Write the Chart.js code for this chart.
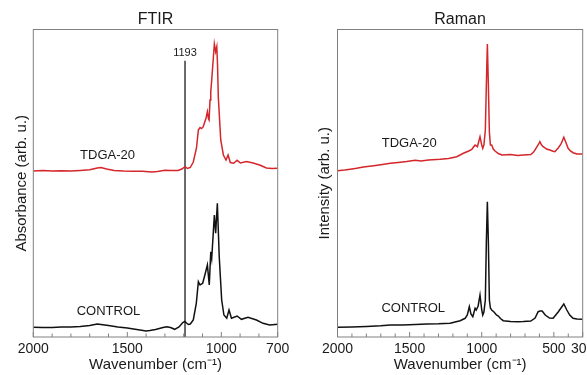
<!DOCTYPE html>
<html>
<head>
<meta charset="utf-8">
<script src="https://cdn.jsdelivr.net/npm/chart.js@4.4.1/dist/chart.umd.min.js"></script>
<style>
  html, body { margin: 0; padding: 0; background: #fff; overflow: hidden; width: 587px; height: 375px; position: relative; }
  canvas { position: absolute; top: 0; }
  #ftirChart { left: 0; }
  #ramanChart { left: 295px; }
</style>
</head>
<body>
<canvas id="ftirChart" width="295" height="375"></canvas>
<canvas id="ramanChart" width="300" height="375"></canvas>
<script>
// FTIR spectra (wavenumber, absorbance in arb. units, stacked)
const ftirTdgaWn = [
  2000, 1950, 1900, 1850, 1800, 1750, 1700, 1660, 1640, 1610,
  1570, 1520, 1470, 1420, 1370, 1340, 1300, 1270, 1230, 1210,
  1193, 1180, 1165, 1149, 1132, 1122, 1113, 1105, 1096, 1088,
  1081, 1074, 1068, 1065, 1060, 1056, 1051, 1044, 1037, 1030,
  1024, 1020, 1016, 1003, 989, 975, 964, 952, 934, 916,
  898, 866, 831, 796, 760, 730, 700];
const ftirTdgaVal = [
  166, 166.5, 166, 166.2, 166, 166.5, 167.2, 169, 169.5, 168,
  166.5, 166, 165.8, 165.7, 165, 165.5, 166.7, 166.5, 166.5, 168,
  170.3, 168.5, 169.5, 175, 189, 207, 209.5, 208.5, 210.3, 215,
  219, 225.3, 218, 217, 237, 245.3, 257, 275, 293, 285.3,
  290.3, 272, 240.3, 197, 182, 177, 182, 174.5, 173.7, 176.7,
  174, 175.5, 174, 172, 169, 168.5, 168.7];

const ftirControlWn = [
  2000, 1950, 1900, 1850, 1800, 1750, 1700, 1660, 1640, 1600,
  1550, 1500, 1450, 1400, 1380, 1350, 1310, 1290, 1270, 1248,
  1225, 1205, 1194, 1185, 1175, 1165, 1149, 1133, 1122, 1113,
  1099, 1085, 1074, 1064, 1056, 1051, 1044, 1037, 1030, 1021,
  1011, 998, 986, 971, 959, 946, 916, 893, 858, 813,
  778, 743, 700];
const ftirControlVal = [
  9.7, 9.5, 9.5, 10, 10, 10.5, 11.5, 13, 12.5, 11.5,
  10, 9, 7.5, 6, 6.5, 7.5, 9.5, 10.3, 9.5, 7.7,
  10, 14.5, 15.5, 14, 12.5, 13, 17, 33.7, 55.3, 52,
  53.7, 63.7, 72, 52, 85.3, 78.7, 100, 122, 103.7, 133.7,
  80.3, 37, 22, 18.7, 27, 18.7, 21, 17.7, 19.7, 17,
  13.7, 12, 12.7];

// Raman spectra (wavenumber, intensity in arb. units, stacked)
const ramanTdgaWn = [
  2000, 1950, 1900, 1868, 1820, 1749, 1700, 1634, 1580, 1520,
  1461, 1420, 1370, 1288, 1230, 1173, 1127, 1090, 1069, 1046,
  1030, 1012, 1000, 993, 985, 975, 968, 961, 954, 947,
  940, 931, 920, 908, 885, 860, 800, 750, 712, 660,
  640, 624, 605, 597, 585, 574, 550, 528, 505, 493,
  470, 450, 431, 415, 401, 385, 367, 340, 302];
const ramanTdgaVal = [
  166.3, 167, 168, 168.7, 170, 171.3, 172.3, 173.7, 174.5, 175.5,
  176.8, 176, 177, 177.7, 178.5, 180.3, 183.7, 186, 187.7, 192,
  190.3, 200.3, 192, 188.7, 192, 207, 252, 293, 252, 205,
  192, 192, 188, 186, 183.5, 182, 182.5, 181.5, 182, 182.5,
  185, 188.7, 193, 195.3, 192, 190.3, 188, 187, 185.7, 185.3,
  189, 193, 199.7, 194, 188.7, 186, 184.3, 183, 183];

const ramanControlWn = [
  2000, 1900, 1800, 1700, 1634, 1550, 1460, 1380, 1300, 1219,
  1150, 1115, 1100, 1086, 1075, 1062, 1046, 1038, 1025, 1012,
  1000, 993, 985, 975, 968, 961, 954, 947, 940, 931,
  915, 898, 885, 870, 851, 800, 750, 712, 660, 630,
  609, 595, 581, 560, 530, 505, 470, 431, 410, 390,
  367, 340, 302];
const ramanControlVal = [
  9.7, 10, 10.5, 11.2, 12, 12, 12.5, 13, 13.2, 13.7,
  16.3, 18.7, 22, 30.3, 23, 20.3, 28.7, 27, 31, 42,
  27, 22, 25, 37, 95, 135.3, 95, 37, 29, 27,
  25, 22, 21, 18.5, 16.3, 15.5, 15.3, 15.5, 16, 19,
  25.3, 26, 26, 22, 19, 18.7, 25, 33, 27, 22,
  18.7, 18, 17.7];

// axis ticks and annotations
const ftirTickLabels = [2000, 1500, 1000, 700];
const ramanTickLabels = [2000, 1500, 1000, 500, 300];
const ftirMarkerWn = 1193;
const ftirMarkerTop = 276.3;
const sampleNames = ['TDGA-20', 'CONTROL'];
const ftirLabelWn = [1605, 1600];
const ftirLabelVal = [182, 25.3];
const ramanLabelWn = [1503, 1475];
const ramanLabelVal = [193.7, 28.7];

const FONT = '"Liberation Sans", Arial, Helvetica, sans-serif';
const INK = '#1a1a1a';
const RED = '#d4262b';
const BLACK = '#111111';

Chart.defaults.font.family = FONT;
Chart.defaults.color = INK;

const toPoints = (wn, vals) => wn.map((w, i) => ({ x: w, y: vals[i] }));

// frame, inward x ticks and in-plot text
const framePlugin = {
  id: 'frame',
  afterDraw(chart, args, opts) {
    const { ctx, chartArea: a, scales: { x, y } } = chart;
    ctx.save();
    ctx.strokeStyle = '#808080';
    ctx.lineWidth = 1;
    ctx.strokeRect(a.left, a.top, a.width, a.height);
    x.ticks.forEach((t) => {
      const px = x.getPixelForValue(t.value);
      const len = opts.major.includes(t.value) ? 5 : 3.5;
      ctx.beginPath();
      ctx.moveTo(px, a.bottom);
      ctx.lineTo(px, a.bottom - len);
      ctx.stroke();
    });
    ctx.fillStyle = INK;
    ctx.textAlign = 'center';
    ctx.textBaseline = 'middle';
    ctx.font = '13px ' + FONT;
    opts.names.forEach((n, i) => {
      ctx.fillText(n, x.getPixelForValue(opts.labelWn[i]), y.getPixelForValue(opts.labelVal[i]));
    });
    if (opts.marker) {
      ctx.font = '11px ' + FONT;
      ctx.fillText(String(opts.marker), x.getPixelForValue(opts.marker), y.getPixelForValue(opts.markerTop) - 8);
    }
    ctx.restore();
  },
};

function spectrumChart(id, p) {
  return new Chart(document.getElementById(id), {
    type: 'line',
    data: { datasets: p.datasets },
    options: {
      responsive: false,
      animation: false,
      layout: { padding: { left: 0, right: p.padRight, top: 0, bottom: 0 } },
      elements: { point: { radius: 0 }, line: { borderWidth: 1.5, tension: 0 } },
      plugins: {
        legend: { display: false },
        tooltip: { enabled: false },
        title: {
          display: true, text: p.title, fullSize: false, color: INK,
          font: { size: 16, weight: 'normal' }, padding: { top: 10.3, bottom: 0 },
        },
        frame: {
          major: p.tickLabels, names: sampleNames, labelWn: p.labelWn, labelVal: p.labelVal,
          marker: p.marker || null, markerTop: p.markerTop || 0,
        },
      },
      scales: {
        x: {
          type: 'linear', reverse: true, min: p.xMin, max: 2000,
          afterFit: (s) => { s.height = 38; s.paddingLeft = 0; s.paddingRight = 0; },
          grid: { display: false, drawTicks: false }, border: { display: false },
          ticks: {
            stepSize: 100, autoSkip: false, maxRotation: 0, padding: 3.3,
            font: { size: 14 }, color: INK,
            callback: (v) => (p.tickLabels.includes(v) ? String(v) : ''),
          },
          title: {
            display: true, text: 'Wavenumber (cm\u207B\u00B9)', color: INK,
            font: { size: 15 }, padding: { top: 0, bottom: 1.5 },
          },
        },
        y: {
          min: 0, max: 307.5,
          afterFit: (s) => { s.width = p.axisWidth; },
          grid: { display: false, drawTicks: false }, border: { display: false },
          ticks: { display: false },
          title: {
            display: true, text: p.yTitle, color: INK,
            font: { size: 15 }, padding: { top: p.yTitlePad, bottom: 0 },
          },
        },
      },
    },
    plugins: [framePlugin],
  });
}

spectrumChart('ftirChart', {
  title: 'FTIR',
  yTitle: 'Absorbance (arb. u.)',
  xMin: 700,
  padRight: 17.3,
  axisWidth: 33.3,
  yTitlePad: 13,
  tickLabels: ftirTickLabels,
  labelWn: ftirLabelWn,
  labelVal: ftirLabelVal,
  marker: ftirMarkerWn,
  markerTop: ftirMarkerTop,
  datasets: [
    { label: 'TDGA-20', data: toPoints(ftirTdgaWn, ftirTdgaVal), borderColor: RED },
    { label: 'CONTROL', data: toPoints(ftirControlWn, ftirControlVal), borderColor: BLACK },
    {
      label: '1193',
      data: [{ x: ftirMarkerWn, y: 0 }, { x: ftirMarkerWn, y: ftirMarkerTop }],
      borderColor: '#3a3a3a', borderWidth: 1.5,
    },
  ],
});

spectrumChart('ramanChart', {
  title: 'Raman',
  yTitle: 'Intensity (arb. u.)',
  xMin: 300,
  padRight: 12.3,
  axisWidth: 42.5,
  yTitlePad: 21,
  tickLabels: ramanTickLabels,
  labelWn: ramanLabelWn,
  labelVal: ramanLabelVal,
  datasets: [
    { label: 'TDGA-20', data: toPoints(ramanTdgaWn, ramanTdgaVal), borderColor: RED },
    { label: 'CONTROL', data: toPoints(ramanControlWn, ramanControlVal), borderColor: BLACK },
  ],
});
</script>
</body>
</html>
